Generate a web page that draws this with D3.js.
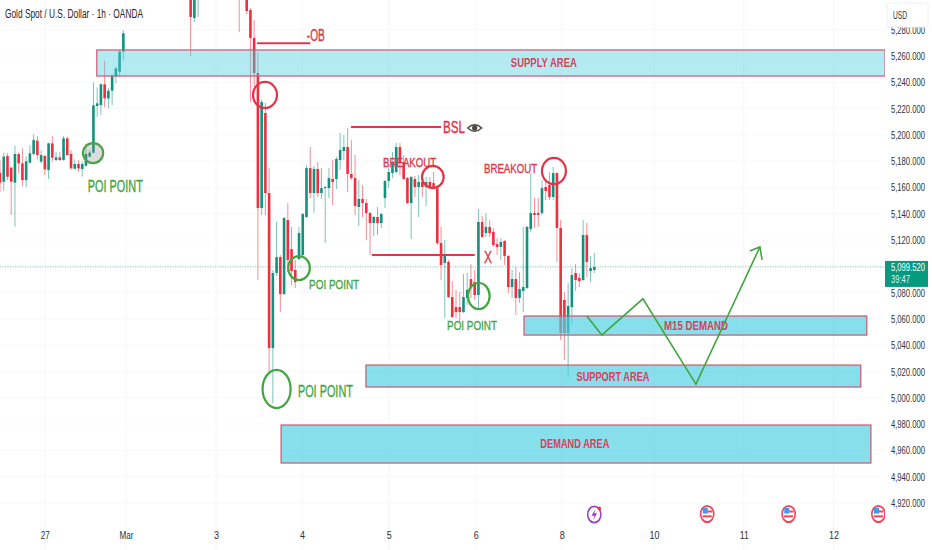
<!DOCTYPE html>
<html>
<head>
<meta charset="utf-8">
<script src="https://cdn.jsdelivr.net/npm/d3@7"></script>
<style>
  html,body{margin:0;padding:0;background:#fff;}
  svg{display:block;}
  text{font-family:"Liberation Sans",sans-serif;}
</style>
</head>
<body>
<div id="chart"></div>
<script>
const barIndex=[...d3.range(0,34),51,52,53,64,66,...d3.range(67,160)];
const opens=[5171.2,5164.3,5183.9,5175,5163.6,5185.4,5178.3,5165.6,5178.8,5185.4,
5195.5,5179.6,5183.9,5173.2,5193.5,5180.8,5182.9,5180.8,5197.3,5185.4,
5174.2,5177.8,5174,5176.5,5183.4,5186.4,5221.9,5222.6,5238.4,5227.7,
5233.5,5244.2,5248,5263.2,
5310,5288.8,5305,5330,5315,
5294.9,5273.6,5247,5144.3,5216.6,5155.7,5037.8,5094.9,5107,5078.9,
5135.2,5113.1,5097.2,5105.5,5108.6,5137.5,5174.7,5155.7,5174,5155.7,
5159.5,5159.5,5166.4,5166.4,5180.8,5187.7,5190.7,5170.2,5167.1,5145.1,
5151.2,5148.1,5140.5,5132.9,5137.5,5132.9,5151.9,5164.9,5170.9,5171.7,
5190.7,5179.3,5167.1,5148.1,5166.4,5160.3,5164.1,5160.3,5164.1,5163.3,
5159.5,5117.7,5102.5,5103.3,5076.6,5069,5069,5065.2,5075.9,5090.3,
5088,5078.2,5133.7,5125.3,5129.9,5126.1,5116.9,5114.7,5119.2,5107.8,
5084.2,5090.3,5075.9,5081.2,5083.5,5128.3,5140.5,5140.5,5140.5,5160.3,
5161.8,5152.7,5170.9,5129.1,5074.4,5049.3,5069,5094.9,5091.1,5089.6,
5123.8,5096.4,5097.2];
const closes=[5163.6,5183.4,5168.1,5164.3,5185.4,5178.3,5165.6,5179.8,5185.9,5196,
5184.6,5184.6,5173.7,5193.5,5182.6,5182.9,5180.8,5197.3,5184.6,5174.5,
5177.8,5174.5,5177.8,5185.4,5186.4,5222.4,5223.9,5238.4,5227.7,5233.5,
5244.7,5250.5,5263.2,5277.2,
5289.6,5312,5312,5310,5294.1,
5273.6,5247,5144.3,5224.9,5155.7,5037.8,5094.9,5107,5078.9,5136.7,
5104.8,5096.4,5088,5125.3,5139.8,5174.7,5155.7,5174,5155.7,5159.5,
5160.3,5167.1,5164.1,5181.6,5188.4,5190.7,5170.2,5167.1,5145.8,5151.2,
5148.1,5140.5,5132.9,5137.5,5132.9,5139.8,5164.9,5171.7,5178.5,5190.7,
5179.3,5166.4,5148.1,5167.9,5160.3,5164.1,5160.3,5164.1,5160.3,5160.3,
5117.7,5101,5108.6,5076.6,5061.4,5065.2,5065.2,5076.6,5082,5084.2,
5078.2,5133.7,5122.3,5129.9,5125.3,5116.2,5114.7,5118.5,5107.8,5084.2,
5090.3,5075.9,5082.7,5084.2,5129.9,5140.5,5139,5139,5159.5,5157.2,
5152.7,5170.9,5129.1,5049.3,5049.3,5069.8,5093.4,5089.6,5088.8,5123.8,
5103.3,5098.7,5099.5];
const highs=[5180.8,5186.4,5185.9,5175.8,5191.7,5186.7,5189.7,5183.4,5192.2,5200.3,
5199,5187.9,5184.6,5194,5199,5187.2,5187.2,5199,5198.6,5188.4,
5181.3,5180.8,5179.8,5193,5188.4,5239.9,5236,5239.1,5256.4,5235.3,
5246.2,5251.8,5264.5,5279.7,
5320,5318,5318,5340,5320,
5296.4,5287.3,5263,5226.5,5224.2,5174.7,5097.2,5133.7,5108.6,5137.5,
5148.1,5129.9,5104.8,5129.9,5140.5,5177,5190.7,5176.3,5179.3,5174.7,
5161,5174.7,5180.8,5183.1,5201.4,5199.8,5205.2,5196,5184.6,5165.6,
5161.8,5151.2,5141.3,5138.2,5145.1,5140.5,5165.6,5177,5186.9,5193.8,
5193.8,5184.6,5167.9,5168.7,5168.7,5169.4,5168.7,5167.9,5167.9,5171.7,
5161.8,5129.9,5120,5104.8,5088.8,5082,5080.4,5094.1,5094.9,5101.7,
5097.2,5143.6,5138.2,5140.5,5135.2,5129.1,5121.5,5121.5,5120,5108.6,
5097.2,5099.4,5095.6,5129.9,5130.6,5170.9,5151.9,5151.9,5165.6,5166.4,
5171.7,5175.5,5171.7,5135.2,5080.4,5087.3,5098.7,5101.7,5094.9,5135.2,
5132.9,5107.8,5110.1];
const lows=[5156.7,5157.5,5165.6,5139,5130.1,5170.7,5161,5160.5,5178.3,5184.6,
5181.3,5178.3,5169.4,5166.4,5179.6,5180.1,5180.3,5180.3,5184.1,5173.7,
5173.7,5171.9,5168.1,5175.8,5182.9,5185.9,5213.8,5215,5220.9,5220.1,
5222.6,5239.1,5244.2,5256.4,
5259.9,5285.8,5289.6,5278.2,5291.9,
5224.9,5236.3,5089.6,5139,5139,5018.8,4996,5092.6,5065.2,5078.2,
5095.6,5085.8,5083.5,5104.8,5107.8,5136.7,5151.9,5140.5,5152.7,5151.2,
5117.7,5151.9,5146.6,5158.8,5173.2,5180.8,5156.5,5165.6,5139,5130.6,
5137.5,5120,5108.6,5123,5123.8,5129.1,5144.3,5159.5,5167.1,5170.9,
5169.4,5165.6,5147.4,5120.7,5152.7,5137.5,5152.7,5145.8,5158.8,5158.8,
5116.2,5089.6,5060.7,5075.9,5060.7,5060.7,5057.6,5064.5,5070.5,5075.9,
5074.4,5068.3,5121.5,5122.3,5122.3,5114.7,5108.6,5104.8,5101,5079.7,
5075.9,5063,5072.1,5065.2,5082.7,5126.1,5129.1,5129.9,5139,5150.4,
5150.4,5150.4,5103.3,5043.9,5028.7,5015.8,5055.3,5081.2,5084.2,5088.8,
5091.9,5088,5094.9];

const priceTicks=d3.range(4920,5281,20);
const timeTickBars=[12,33.7,57.8,80.8,104,127.3,150.3,175,199,223];
const timeTickLabels=["27","Mar","3","4","5","6","8","10","11","12"];
const lastPrice=5099.52;

// annotations, in [bar, price] units
const zoneNames=["SUPPLY AREA","M15 DEMAND","SUPPORT AREA","DEMAND AREA"];
const zoneBars=[[25.9,236.8],[140.2,231.9],[97.9,230.3],[75.2,233]];
const zonePrices=[[5264.5,5244.7],[5062.2,5047.7],[5024.9,5008.2],[4979.3,4950.4]];
const zoneLabelAt=[[145.5,5254.6],[186.2,5054.6],[164,5015.8],[153.8,4964.8]];
const redRings=[[70.9,5230.3,3.2,9.9],[115.8,5167.9,2.9,8.4],[148.2,5172.5,3.2,9.9]];
const greenRings=[[24.9,5186.1,2.7,7.6],[80,5098.7,2.9,9.1],[128.1,5077.4,2.9,9.9],[74,5006.7,3.75,14.5]];
const redLines=[[68.8,83,5269.7],[93.9,118,5205.9],[99.5,127,5108.6]];
const poiLabels=[[23.5,5161],[82.7,5085.8],[119.6,5055.3],[79.7,5005.1]];
const redTexts=["-OB","BSL","X","BREAKOUT","BREAKOUT"];
const redTextAt=[[82.1,5275.6],[118.5,5205.2],[129.5,5107],[102.5,5179.3],[129.5,5174.7]];
const forecast=[[157,5062.2],[161,5047.7],[172,5075.3],[186.2,5010.4],[203.3,5114.7]];
const forecastHead=[[200.6,5111.6],[203.3,5114.7],[203.9,5104.8]];
const eyeAt=[127,5205.2];
const newsBars=[159],flagBars=[189.2,211,235];

const width=932,height=550,red="#e0354b",green="#43a53f",up="#12917c",down="#ec3040",labelInk="#2e3138";
const svg=d3.select("#chart").append("svg").attr("width",width).attr("height",height);
const x=d3.scaleLinear().domain([0,159]).range([0,594.3]);
const y=d3.scaleLinear().domain([4920,5280]).range([503,29.6]);

// the page font is wider than the original, so squeeze each text to its own width
function squeeze(sel,w){
  sel.attr("textLength",w).attr("lengthAdjust","spacingAndGlyphs");
}
svg.append("clipPath").attr("id","pane").append("rect").attr("width",885).attr("height",height);
const pane=svg.append("g").attr("clip-path","url(#pane)");

// faint grid
pane.selectAll(".gx").data(timeTickBars).join("line")
  .attr("x1",d=>x(d)).attr("x2",d=>x(d)).attr("y1",0).attr("y2",height)
  .attr("stroke","#f5f6f8");
pane.selectAll(".gy").data(priceTicks).join("line")
  .attr("x1",0).attr("x2",885).attr("y1",d=>y(d)).attr("y2",d=>y(d))
  .attr("stroke","#f7f8fa");

// last price line
pane.append("line").attr("x1",0).attr("x2",885).attr("y1",y(lastPrice)).attr("y2",y(lastPrice))
  .attr("stroke",up).attr("stroke-opacity",.55).attr("stroke-dasharray","1 1.5");

// candles
const candles=barIndex.map((b,i)=>({b,o:opens[i],h:highs[i],l:lows[i],c:closes[i]}));
pane.selectAll(".wick").data(candles).join("line")
  .attr("x1",d=>x(d.b)).attr("x2",d=>x(d.b)).attr("y1",d=>y(d.h)).attr("y2",d=>y(d.l))
  .attr("stroke",d=>d.c>=d.o?up:down).attr("stroke-opacity",.55).attr("stroke-width",1);
pane.selectAll(".body").data(candles).join("rect")
  .attr("x",d=>x(d.b)-1.3).attr("width",2.6)
  .attr("y",d=>y(Math.max(d.o,d.c)))
  .attr("height",d=>Math.max(1,Math.abs(y(d.o)-y(d.c))))
  .attr("fill",d=>d.c>=d.o?up:down);

// zones sit over the candles
pane.selectAll(".zone").data(zoneNames).join("rect")
  .attr("x",(d,i)=>x(zoneBars[i][0])).attr("width",(d,i)=>x(zoneBars[i][1])-x(zoneBars[i][0]))
  .attr("y",(d,i)=>y(zonePrices[i][0])).attr("height",(d,i)=>y(zonePrices[i][1])-y(zonePrices[i][0]))
  .attr("fill","#4dd0e1").attr("fill-opacity",(d,i)=>i===0?.42:.68)
  .attr("stroke","#cf5670").attr("stroke-width",1.2);
const zoneWidths=[66,64,73,69];
pane.selectAll(".zoneLabel").data(zoneNames).join("text")
  .attr("x",(d,i)=>x(zoneLabelAt[i][0])).attr("y",(d,i)=>y(zoneLabelAt[i][1]))
  .attr("text-anchor","middle").attr("dominant-baseline","central")
  .attr("font-size",12.5).attr("font-weight",700).attr("fill","#d9405a").text(d=>d)
  .each(function(d,i){squeeze(d3.select(this),zoneWidths[i]);});

// rings
const ring=(data,color)=>pane.selectAll(null).data(data).join("ellipse")
  .attr("cx",d=>x(d[0])).attr("cy",d=>y(d[1]))
  .attr("rx",d=>x(d[2])-x(0)).attr("ry",d=>y(0)-y(d[3]))
  .attr("fill","none").attr("stroke",color).attr("stroke-width",2.2);
ring(redRings,"#e33349");
ring(greenRings,green);
pane.append("ellipse").attr("cx",x(greenRings[0][0])).attr("cy",y(greenRings[0][1]))
  .attr("rx",x(greenRings[0][2])-x(0)).attr("ry",y(0)-y(greenRings[0][3]))
  .attr("fill","#8a8f8c").attr("fill-opacity",.3);

// marker lines
pane.selectAll(".mark").data(redLines).join("line")
  .attr("x1",d=>x(d[0])).attr("x2",d=>x(d[1])).attr("y1",d=>y(d[2])).attr("y2",d=>y(d[2]))
  .attr("stroke",red).attr("stroke-width",2);

// red labels
const redWidths=[18,22,8,53,53];
pane.selectAll(".redText").data(redTexts).join("text")
  .attr("x",(d,i)=>x(redTextAt[i][0])).attr("y",(d,i)=>y(redTextAt[i][1]))
  .attr("dominant-baseline","central").attr("fill",red)
  .attr("stroke",red).attr("stroke-width",.35)
  .attr("font-size",(d,i)=>i<3?16:13).text(d=>d)
  .each(function(d,i){squeeze(d3.select(this),redWidths[i]);});

// POI labels
const poiSizes=[16,13,13,17],poiWidths=[55,50,50,55];
pane.selectAll(".poi").data(poiLabels).join("text")
  .attr("x",d=>x(d[0])).attr("y",d=>y(d[1]))
  .attr("dominant-baseline","central").attr("fill",green)
  .attr("stroke",green).attr("stroke-width",.35)
  .attr("font-size",(d,i)=>poiSizes[i]).text("POI POINT")
  .each(function(d,i){squeeze(d3.select(this),poiWidths[i]);});

// eye next to BSL
const eye=pane.append("g").attr("transform",`translate(${x(eyeAt[0])},${y(eyeAt[1])})`);
eye.append("path").attr("d","M-7,0Q0,-6.5 7,0Q0,6.5 -7,0Z").attr("fill","none").attr("stroke","#4b4640").attr("stroke-width",1.3);
eye.append("circle").attr("r",2.6).attr("fill","#4b4640");

// forecast path
const line=d3.line().x(d=>x(d[0])).y(d=>y(d[1]));
pane.append("path").attr("d",line(forecast)).attr("fill","none").attr("stroke",green).attr("stroke-width",1.6);
pane.append("path").attr("d",line(forecastHead)).attr("fill","none").attr("stroke",green).attr("stroke-width",1.6);

// event icons
const news=pane.selectAll(".news").data(newsBars).join("g").attr("transform",d=>`translate(${x(d)},514.5) scale(1.1,1.35)`);
news.append("circle").attr("r",6).attr("fill","#fff").attr("stroke","#9c3fc0").attr("stroke-width",1.4);
news.append("path").attr("d","M1,-4L-2.5,1H0L-1,4L2.5,-1H0Z").attr("fill","#9c3fc0");
news.append("circle").attr("cx",4.6).attr("cy",-4.4).attr("r",1.5).attr("fill","#f0304a");
const flags=pane.selectAll(".flag").data(flagBars).join("g").attr("transform",d=>`translate(${x(d)},514) scale(1.1,1.35)`);
flags.append("circle").attr("r",6).attr("fill","#fff").attr("stroke","#ea4a5c").attr("stroke-width",1.5);
flags.append("rect").attr("x",-4).attr("y",-4.5).attr("width",4.6).attr("height",4.2).attr("fill","#4a97e8");
flags.append("rect").attr("x",.6).attr("y",-2.6).attr("width",3.8).attr("height",1.5).attr("fill","#ea4a5c");
flags.append("rect").attr("x",-4.2).attr("y",1).attr("width",8.4).attr("height",1.5).attr("fill","#ea4a5c");

// axes
const styleAxis=(s,widthOf)=>{
  s.select(".domain").remove();
  s.selectAll("text").attr("fill",labelInk).attr("font-size",11)
    .style("font-family",'"Liberation Sans",sans-serif')
    .each(function(d,i){squeeze(d3.select(this),widthOf(i));});
};
// right-hand labels end at 925, anchored at their far edge
svg.append("g").attr("transform","translate(925,0)")
  .call(d3.axisLeft(y).tickValues(priceTicks).tickSize(0).tickPadding(0).tickFormat(d3.format(",.3f")))
  .call(styleAxis,()=>34);
const timeWidths=[9,14,5,5,5,5,5,10,9,10];
svg.append("g").attr("transform","translate(0,528)")
  .call(d3.axisBottom(x).tickValues(timeTickBars).tickSize(0).tickPadding(3)
    .tickFormat((d,i)=>timeTickLabels[i]))
  .call(styleAxis,i=>timeWidths[i]);

// USD box
svg.append("rect").attr("x",887).attr("y",3).attr("width",41).attr("height",24).attr("rx",2)
  .attr("fill","#fff").attr("stroke","#eef0f3");
svg.append("text").attr("x",893).attr("y",19).attr("font-size",11).attr("fill",labelInk)
  .text("USD").call(squeeze,14);

// last price box
svg.append("rect").attr("x",885).attr("y",y(lastPrice)-6).attr("width",43).attr("height",26)
  .attr("fill","#089981");
svg.append("text").attr("x",925).attr("y",y(lastPrice)+4.5).attr("text-anchor","end")
  .attr("font-size",11).attr("fill","#fff").text("5,099.520").call(squeeze,34);
svg.append("text").attr("x",891).attr("y",y(lastPrice)+16.5).attr("font-size",11).attr("fill","#d9f3ee")
  .text("39:47").call(squeeze,19);

// title
svg.append("text").attr("x",5).attr("y",18).attr("font-size",12.5).attr("fill","#1f2329")
  .text("Gold Spot / U.S. Dollar · 1h · OANDA").call(squeeze,138);
</script>
</body>
</html>
